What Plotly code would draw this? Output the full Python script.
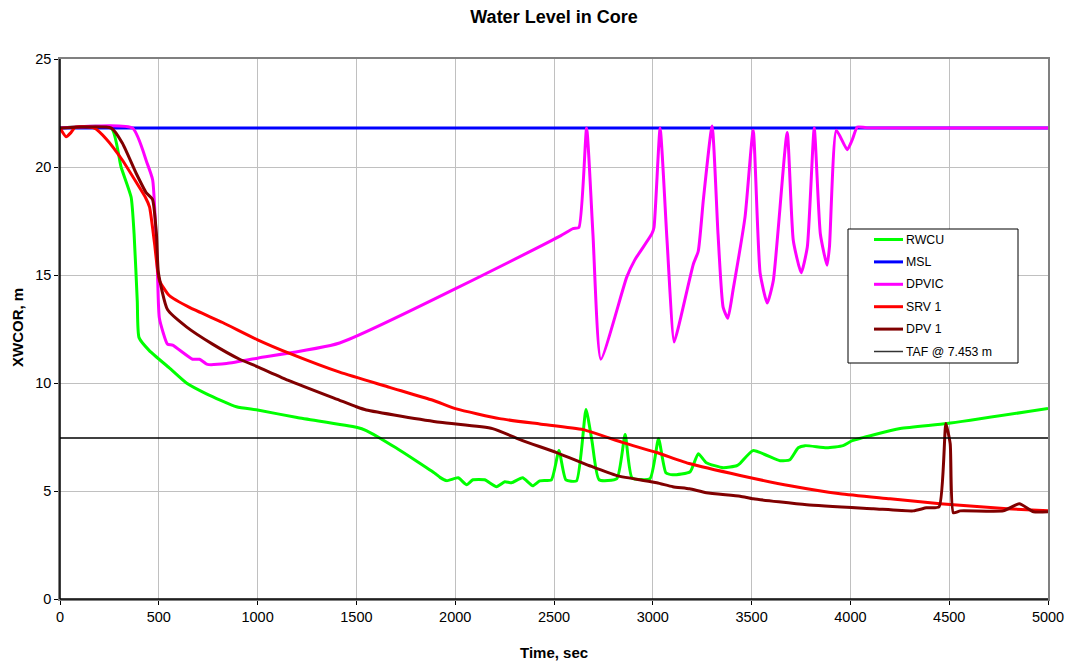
import plotly.graph_objects as go

# ---- data ----
msl_t = [0, 5000]
msl_v = [21.8, 21.8]

taf_t = [0, 5000]
taf_v = [7.453, 7.453]

dpvic_t = [0, 367, 440, 469, 493, 503, 544, 570, 671, 706, 746, 843, 1000, 1415,
           2530, 2596, 2626, 2665, 2697, 2737, 2868, 2909, 2995, 3006, 3037, 3072,
           3108, 3138, 3205, 3230, 3256, 3300, 3330, 3356, 3380, 3406, 3467, 3508,
           3543, 3579, 3610, 3680, 3711, 3751, 3782, 3817, 3848, 3882, 3894, 3929,
           3984, 4009, 4035, 4080, 4500, 5000]
dpvic_v = [21.8, 21.8, 20.2, 19.4, 15.2, 13.0, 11.8, 11.75, 11.1, 11.1, 10.86, 10.9,
           11.15, 11.85, 16.8, 17.15, 17.2, 21.8, 16.9, 11.1, 14.9, 15.7, 16.9, 17.2,
           21.8, 16.6, 11.9, 12.9, 15.5, 16.1, 18.5, 21.9, 16.9, 13.5, 13.0, 14.3,
           17.7, 21.7, 15.1, 13.7, 14.75, 21.6, 16.6, 15.1, 16.3, 21.8, 16.9, 15.45,
           16.3, 21.7, 20.8, 21.25, 21.85, 21.82, 21.8, 21.8]

rwcu_t = [0, 260, 309, 360, 375, 391, 400, 452, 553, 640, 741, 893, 1000, 1200,
          1500, 1550, 1700, 1900, 1923, 1957, 2015, 2058, 2090, 2149, 2209, 2251,
          2285, 2341, 2392, 2428, 2487, 2525, 2560, 2614, 2662, 2692, 2728, 2818,
          2860, 2895, 2986, 3029, 3066, 3101, 3189, 3230, 3271, 3356, 3424, 3442,
          3507, 3644, 3694, 3736, 3771, 3880, 3963, 4009, 4252, 4489, 5000]
rwcu_v = [21.8, 21.8, 20.0, 18.6, 16.9, 13.8, 12.1, 11.5, 10.7, 10.0, 9.5, 8.9,
          8.75, 8.4, 7.95, 7.8, 7.0, 5.8, 5.63, 5.48, 5.61, 5.29, 5.52, 5.52, 5.2,
          5.43, 5.38, 5.61, 5.24, 5.47, 5.52, 6.87, 5.52, 5.47, 8.77, 7.33, 5.52,
          5.57, 7.61, 5.61, 5.57, 7.42, 5.85, 5.75, 5.89, 6.73, 6.31, 6.08, 6.17,
          6.28, 6.87, 6.4, 6.45, 7.0, 7.1, 7.0, 7.1, 7.33, 7.89, 8.12, 8.82]

srv_t = [0, 31, 56, 78, 174, 234, 317, 392, 432, 453, 478, 503, 553, 655, 823,
         1000, 1162, 1415, 1668, 1887, 2006, 2225, 2428, 2647, 2849, 3020, 3189,
         3442, 3695, 3948, 4201, 4454, 4794, 5000]
srv_v = [21.8, 21.4, 21.6, 21.85, 21.8, 21.3, 20.3, 19.2, 18.6, 18.15, 16.5,
         14.75, 14.05, 13.5, 12.8, 12.0, 11.37, 10.5, 9.8, 9.2, 8.8, 8.35, 8.1,
         7.84, 7.24, 6.78, 6.26, 5.72, 5.24, 4.87, 4.64, 4.41, 4.18, 4.08]

dpv_t = [0, 260, 316, 386, 437, 468, 488, 498, 544, 640, 772, 909, 1000, 1162,
         1415, 1500, 1550, 1923, 2189, 2341, 2513, 2680, 2818, 3020, 3101, 3186,
         3271, 3442, 3509, 3779, 4116, 4318, 4385, 4449, 4483, 4505, 4521, 4556,
         4774, 4855, 4927, 5000]
dpv_v = [21.8, 21.8, 21.1, 19.7, 18.8, 18.5, 16.9, 15.1, 13.4, 12.6, 11.8, 11.1,
         10.75, 10.1, 9.2, 8.9, 8.75, 8.18, 7.89, 7.33, 6.78, 6.17, 5.71, 5.38,
         5.2, 5.1, 4.92, 4.76, 4.64, 4.36, 4.18, 4.08, 4.22, 4.27, 8.12, 7.19,
         3.99, 4.08, 4.08, 4.41, 4.04, 4.04]

x_ticks = [0, 500, 1000, 1500, 2000, 2500, 3000, 3500, 4000, 4500, 5000]
y_ticks = [0, 5, 10, 15, 20, 25]

FONT = "Liberation Sans, Arial, sans-serif"

series = [
    ("RWCU", rwcu_t, rwcu_v, "#00ff00", 3),
    ("MSL", msl_t, msl_v, "#0000ff", 3),
    ("DPVIC", dpvic_t, dpvic_v, "#ff00ff", 3),
    ("SRV 1", srv_t, srv_v, "#ff0000", 3),
    ("DPV 1", dpv_t, dpv_v, "#800000", 3),
    ("TAF @ 7.453 m", taf_t, taf_v, "#000000", 1.3),
]

W, H = 1069, 667
L, R, T, B = 60, 21, 59, 68
PW, PH = W - L - R, H - T - B

def px_x(p):
    return (p - L) / PW

def px_y(p):
    return (H - B - p) / PH

fig = go.Figure()
for name, t, v, col, w in series:
    fig.add_trace(go.Scatter(x=t, y=v, name=name, mode="lines",
                             line=dict(color=col, width=w, shape="spline",
                                       smoothing=0.5)))

shapes = []
annotations = []
# custom legend box
shapes.append(dict(type="rect", xref="paper", yref="paper",
                   x0=px_x(848), x1=px_x(1018), y0=px_y(363), y1=px_y(229),
                   line=dict(color="black", width=1), fillcolor="white", layer="above"))
for i, (name, t, v, col, w) in enumerate(series):
    yc = 239.5 + i * 22.4
    shapes.append(dict(type="line", xref="paper", yref="paper",
                       x0=px_x(874), x1=px_x(903), y0=px_y(yc), y1=px_y(yc),
                       line=dict(color=col if i < 5 else "#333333",
                                 width=3 if i < 5 else 1.5), layer="above"))
    annotations.append(dict(text=name, xref="paper", yref="paper",
                            x=px_x(904), y=px_y(yc), xanchor="left", yanchor="middle",
                            showarrow=False, font=dict(size=12.3, family=FONT, color="black")))
# dark left and bottom axis lines like the original
shapes.append(dict(type="line", xref="paper", yref="paper", x0=0, x1=0, y0=0, y1=1,
                   line=dict(color="black", width=1.5), layer="above"))
shapes.append(dict(type="line", xref="paper", yref="paper", x0=0, x1=1, y0=0, y1=0,
                   line=dict(color="black", width=1.5), layer="above"))
# axis titles
annotations.append(dict(text="<b>Time, sec</b>", xref="paper", yref="paper",
                        x=0.5, y=px_y(652.5), xanchor="center", yanchor="middle",
                        showarrow=False, font=dict(size=15, family=FONT, color="black")))
annotations.append(dict(text="<b>XWCOR, m</b>", xref="paper", yref="paper",
                        x=px_x(17), y=px_y(328), xanchor="center", yanchor="middle",
                        textangle=-90, showarrow=False,
                        font=dict(size=15, family=FONT, color="black")))

fig.update_layout(
    width=W, height=H,
    margin=dict(l=L, r=R, t=T, b=B, autoexpand=False),
    paper_bgcolor="white", plot_bgcolor="white",
    font=dict(family=FONT, size=14, color="black"),
    title=dict(text="<b>Water Level in Core</b>", x=0.5, xref="paper", xanchor="center",
               y=1 - 17 / H, yref="container", yanchor="middle",
               font=dict(size=18, family=FONT)),
    showlegend=False,
    shapes=shapes,
    annotations=annotations,
)
fig.update_xaxes(range=[0, 5000], tickvals=x_ticks, showgrid=True, automargin=False,
                 gridcolor="#c0c0c0", gridwidth=1, zeroline=False,
                 showline=True, linecolor="#808080", linewidth=1.5, mirror=True,
                 ticks="outside", ticklen=4, tickcolor="black",
                 tickfont=dict(size=14.5))
fig.update_yaxes(range=[0, 25], tickvals=y_ticks, showgrid=True, automargin=False,
                 gridcolor="#c0c0c0", gridwidth=1, zeroline=False,
                 showline=True, linecolor="#808080", linewidth=1.5, mirror=True,
                 ticks="outside", ticklen=4, tickcolor="black",
                 tickfont=dict(size=14.5))

fig.write_html("out.html", config={"displayModeBar": False},
               post_script="document.body.style.margin='0';document.body.style.padding='0';")
